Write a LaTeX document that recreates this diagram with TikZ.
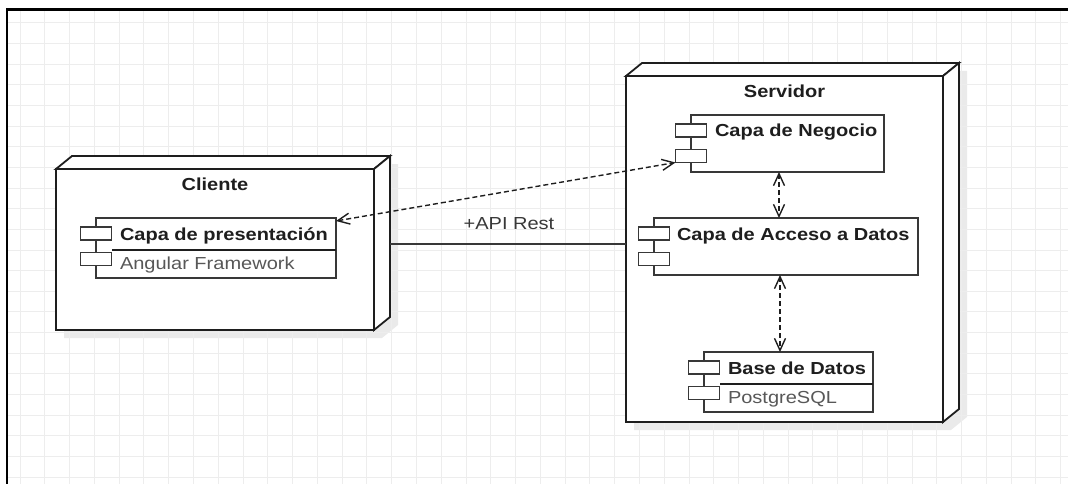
\documentclass[tikz,border=0pt]{standalone}
\usepackage{fontspec}
\setmainfont{Liberation Sans}[FakeStretch=1.15]
\usetikzlibrary{arrows.meta,calc}
\pgfdeclarelayer{bg}
\pgfsetlayers{bg,main}
\definecolor{gridc}{HTML}{EDEDED}
\definecolor{ink}{HTML}{1E1E1E}
\definecolor{boxc}{HTML}{383838}
\definecolor{subc}{HTML}{585858}
\definecolor{shadec}{HTML}{EAEAEA}
\begin{document}
\begin{tikzpicture}[x=1pt,y=-1pt,
  every node/.style={inner sep=0pt, outer sep=0pt},
  txt/.style={font=\fontsize{17.4}{20}\selectfont, text=ink},
  ttl/.style={txt, font=\fontsize{17.4}{20}\selectfont\bfseries},
  sub/.style={txt, text=subc},
  depfront/.style={draw=ink, line width=1.8pt, fill=white, anchor=north west},
  depline/.style={draw=ink, line width=1.8pt, fill=white, line join=miter},
  comp/.style={draw=boxc, line width=1.4pt, fill=white, anchor=north west},
  port/.style={draw=boxc, line width=1.4pt, fill=white, minimum width=31pt, minimum height=13pt},
  divider/.style={draw=ink, line width=1.2pt},
  tip/.style={Straight Barb[length=12pt,width=11pt]},
  usage/.style={draw=ink, line width=1.4pt, dash pattern=on 5pt off 3pt, {Straight Barb[length=12pt,width=11pt]}-{Straight Barb[length=12pt,width=11pt]}},
  link/.style={draw=boxc, line width=1.4pt}]
\useasboundingbox (0,0) rectangle (1068,484);

% background grid
\foreach \i in {0,...,42} \draw[gridc, line width=1pt] ({20+24.78*\i},10) -- ({20+24.78*\i},484);
\foreach \j in {0,...,22} \draw[gridc, line width=1pt] (8,{23+20.64*\j}) -- (1068,{23+20.64*\j});

% frame
\draw[black, line width=2.2pt] (7,484) -- (7,9.5) -- (1068,9.5);

% deployment nodes (front faces)
\node[depfront, minimum width=318pt, minimum height=161pt] (cli) at (56,169) {};
\node[depfront, minimum width=317pt, minimum height=346pt] (srv) at (626,76) {};

% 3D faces of the deployment nodes
\foreach \n/\dx/\dy in {cli/16/-13, srv/16/-13} {
  \draw[depline] (\n.north west) -- ++(\dx,\dy) -- ([shift={(\dx,\dy)}]\n.north east) -- (\n.north east) -- cycle;
  \draw[depline] (\n.north east) -- ++(\dx,\dy) -- ([shift={(\dx,\dy)}]\n.south east) -- (\n.south east) -- cycle;
}

% soft shadows behind the nodes
\begin{pgfonlayer}{bg}
  \foreach \n in {cli,srv} {
    \fill[shadec] ([shift={(8,8)}]\n.south west) -- ([shift={(8,8)}]\n.north west) -- ([shift={(24,-5)}]\n.north west)
      -- ([shift={(24,-5)}]\n.north east) -- ([shift={(24,-5)}]\n.south east) -- ([shift={(8,8)}]\n.south east) -- cycle;
  }
\end{pgfonlayer}

\node[ttl, anchor=base] (clit) at ($(cli.north)+(0,21.5)$) {Cliente};
\node[ttl, anchor=base] (srvt) at ($(srv.north)+(0,22)$) {Servidor};

% components
\node[comp, minimum width=240pt, minimum height=60pt] (pres) at (96,218) {};
\node[comp, minimum width=193pt, minimum height=57pt] (neg) at (691,115) {};
\node[comp, minimum width=264pt, minimum height=57pt] (acc) at (654,218) {};
\node[comp, minimum width=169pt, minimum height=60pt] (base) at (704,352) {};

\begin{pgfonlayer}{bg}
  \foreach \n in {pres,neg,acc,base}
    \fill[shadec] ([shift={(10,8)}]\n.north west) rectangle ([shift={(10,8)}]\n.south east);
\end{pgfonlayer}

\foreach \n in {pres,neg,acc,base} {
  \node[port] (\n p1) at ([shift={(0,15.5)}]\n.north west) {};
  \node[port] (\n p2) at ([shift={(0,41)}]\n.north west) {};
}

\draw[divider] ([shift={(16,32)}]pres.north west) -- ([shift={(0,32)}]pres.north east);
\draw[divider] ([shift={(16,32)}]base.north west) -- ([shift={(0,32)}]base.north east);

\node[ttl, anchor=base west] (prest) at ([shift={(24,22)}]pres.north west) {Capa de presentación};
\node[sub, anchor=base west] (pressub) at ([shift={(24,51)}]pres.north west) {Angular Framework};
\node[ttl, anchor=base west] (negt) at ([shift={(24,22)}]neg.north west) {Capa de Negocio};
\node[ttl, anchor=base west] (acct) at ([shift={(23,22)}]acc.north west) {Capa de Acceso a Datos};
\node[ttl, anchor=base west] (baset) at ([shift={(24,22)}]base.north west) {Base de Datos};
\node[sub, anchor=base west] (basesub) at ([shift={(24,51)}]base.north west) {PostgreSQL};

% connectors
\draw[usage] ([yshift=-3pt]pres.north east) -- (negp2.south west);
\coordinate (axisA) at (779,0);
\coordinate (axisB) at (780,0);
\draw[usage] (neg.south -| axisA) -- (acc.north -| axisA);
\draw[usage] (acc.south -| axisB) -- (base.north -| axisB);

\coordinate (apiL) at (390,244);
\draw[link] (apiL) -- (apiL -| srv.west);
\node[txt, anchor=base, text=boxc] (api) at (509,229.5) {+API Rest};
\end{tikzpicture}
\end{document}
